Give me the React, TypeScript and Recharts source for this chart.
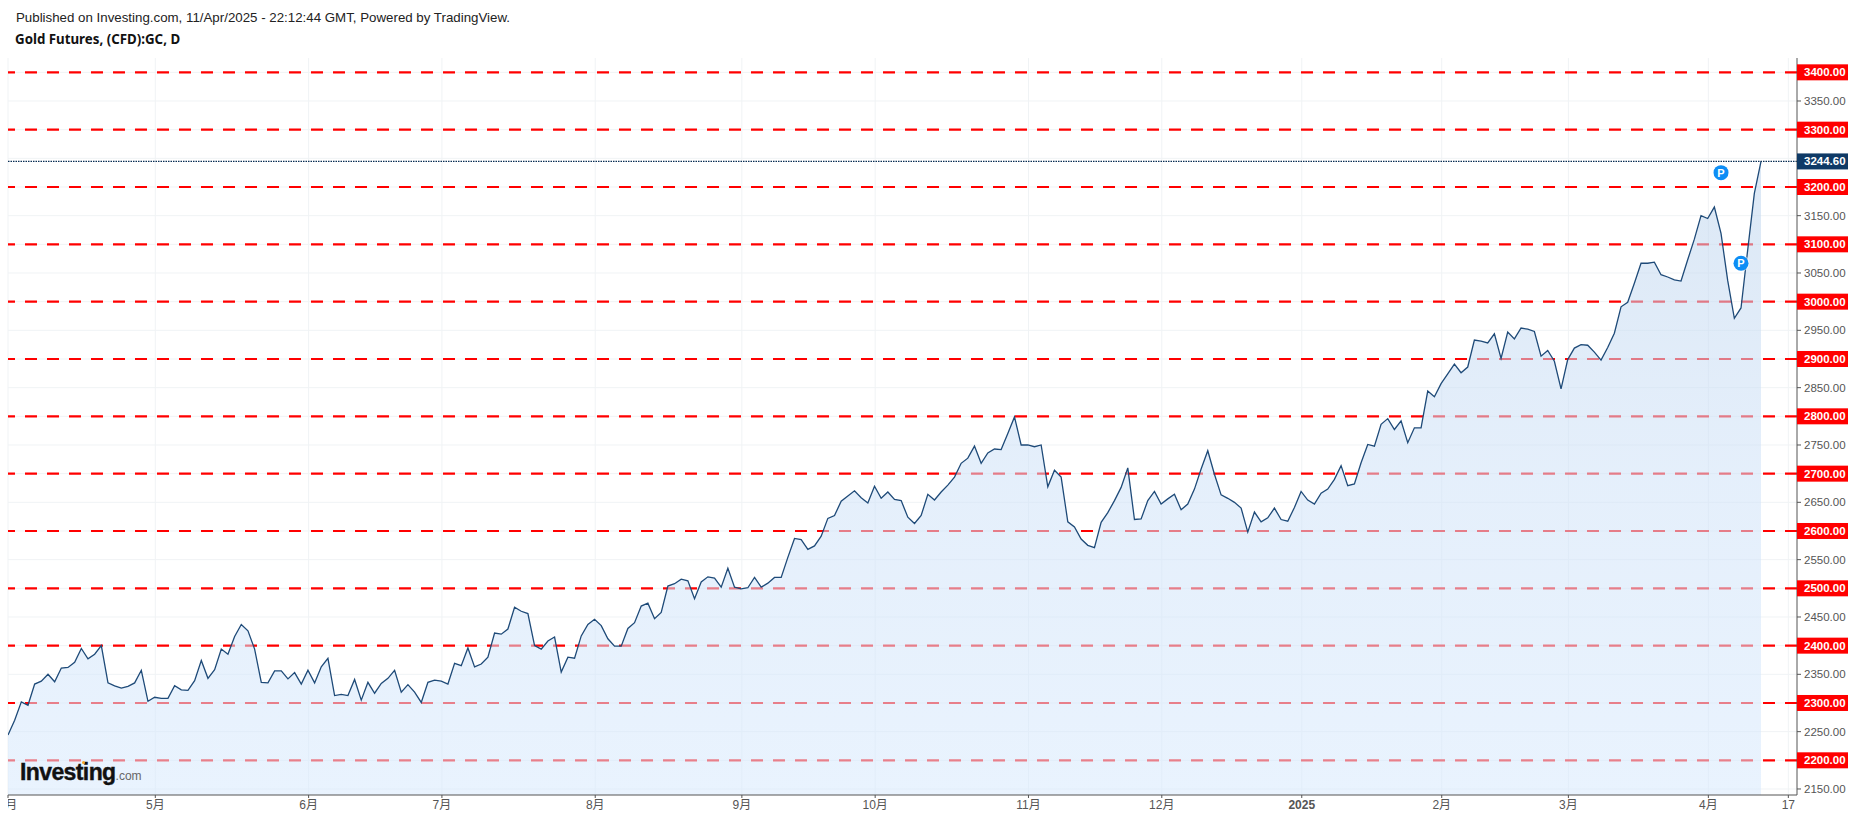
import React from 'react';
import { ComposedChart, Area, XAxis, YAxis, CartesianGrid, ReferenceLine, ReferenceDot } from 'recharts';

// daily closes
const closes = [
    2244, 2270, 2302, 2296, 2333, 2338, 2350, 2337, 2361, 2362, 2371, 2395, 2377, 2385, 2400, 2335,
    2330, 2326, 2329, 2335, 2357, 2303, 2310, 2308, 2308, 2330, 2323, 2322, 2339, 2374, 2343, 2358,
    2394, 2385, 2416, 2437, 2426, 2394, 2336, 2335, 2356, 2356, 2342, 2353, 2333, 2357, 2335, 2363,
    2378, 2313, 2315, 2313, 2341, 2305, 2336, 2317, 2334, 2343, 2357, 2319, 2332, 2319, 2301, 2336,
    2340, 2338, 2333, 2369, 2365, 2396, 2363, 2368, 2380, 2422, 2420, 2429, 2467, 2460, 2456, 2400,
    2394, 2408, 2415, 2354, 2380, 2378, 2417, 2437, 2446, 2435, 2412, 2399, 2399, 2430, 2440, 2469,
    2474, 2447, 2458, 2504, 2508, 2516, 2513, 2482, 2511, 2520, 2518, 2502, 2535, 2502, 2499, 2501,
    2519, 2502, 2509, 2519, 2519, 2554, 2587, 2585, 2568, 2574, 2591, 2622, 2627, 2652, 2661, 2670,
    2658, 2649, 2678, 2657, 2668, 2655, 2653, 2624, 2613, 2627, 2664, 2654, 2668, 2680, 2694, 2718,
    2727, 2748, 2718, 2736, 2743, 2742, 2770, 2799, 2750, 2750, 2747, 2750, 2677, 2706, 2694, 2616,
    2607, 2586, 2575, 2571, 2615, 2632, 2653, 2676, 2710, 2620, 2621, 2653, 2669, 2647, 2656, 2664,
    2637, 2647, 2673, 2708, 2740, 2699, 2663, 2657, 2650, 2640, 2598, 2633, 2616, 2623, 2640, 2620,
    2617, 2641, 2669, 2654, 2647, 2666, 2673, 2690, 2714, 2679, 2682, 2719, 2751, 2748, 2786, 2796,
    2777, 2792, 2754, 2780, 2780, 2844, 2834, 2857, 2874, 2891, 2876, 2886, 2933, 2931, 2928, 2944,
    2901, 2947, 2935, 2954, 2952, 2948, 2905, 2915, 2896, 2848, 2899, 2919, 2925, 2924, 2912, 2898,
    2920, 2945, 2991, 2999, 3032, 3067, 3067, 3069, 3047, 3043, 3038, 3036, 3073, 3109, 3150, 3145,
    3165, 3119, 3037, 2971, 2989, 3090, 3189, 3244.6,
];

const monthTicks = [0, 22.1, 45.1, 65.1, 88.1, 110.1, 130.1, 153.1, 173.1, 194.1, 215.1, 234.1, 255.1, 267.1];
const monthLabels = ['4月', '5月', '6月', '7月', '8月', '9月', '10月', '11月', '12月', '2025', '2月', '3月', '4月', '17'];

const gridPrices = [
    2150, 2200, 2250, 2300, 2350, 2400, 2450, 2500, 2550, 2600, 2650, 2700, 2750,
    2800, 2850, 2900, 2950, 3000, 3050, 3100, 3150, 3200, 3250, 3300, 3350, 3400,
];
const levels = [2200, 2300, 2400, 2500, 2600, 2700, 2800, 2900, 3000, 3100, 3200, 3300, 3400];
const lastPrice = 3244.6;
const pivots = [
    { day: 257, price: 3225 },
    { day: 260, price: 3067 },
];

const chartData = closes.map((close, day) => ({ day, close }));
const sansFont = '"Liberation Sans", Arial, "Noto Sans CJK JP", sans-serif';

function PriceTick({ x, y, payload }: any) {
    const value = payload.value;
    const isLast = value === lastPrice;
    const isLevel = levels.includes(value);
    return (
        <g>
            {isLast && <rect x={x - 7} y={y - 8} width={51} height={16} fill="#0f3a66" />}
            {isLevel && <rect x={x - 7} y={y - 8} width={51} height={16} fill="#ff0000" />}
            <text
                x={x}
                y={y + 4}
                fontSize={11.5}
                fontFamily={sansFont}
                fontWeight={isLast || isLevel ? 'bold' : 'normal'}
                fill={isLast || isLevel ? '#ffffff' : '#555555'}
            >
                {value.toFixed(2)}
            </text>
        </g>
    );
}

function MonthTick({ x, y, payload }: any) {
    const label = monthLabels[monthTicks.indexOf(payload.value)];
    return (
        <text
            x={x}
            y={y + 11}
            clipPath="url(#axisClip)"
            textAnchor="middle"
            fontSize={12}
            fontFamily={sansFont}
            fontWeight={label === '2025' ? 'bold' : 'normal'}
            fill="#555555"
        >
            {label}
        </text>
    );
}

function PivotBadge({ cx, cy }: any) {
    return (
        <g>
            <circle cx={cx} cy={cy} r={8.5} fill="#ffffff" opacity={0.5} />
            <circle cx={cx} cy={cy} r={7.5} fill="#0d8df5" />
            <text x={cx} y={cy + 4} textAnchor="middle" fontSize={11} fontWeight="bold" fontFamily={sansFont} fill="#ffffff">P</text>
        </g>
    );
}

export default function App() {
    return (
        <div style={{ position: 'absolute', left: 0, top: 0, width: 1855, height: 819, background: '#ffffff', overflow: 'hidden' }}>
            <div style={{ position: 'absolute', left: 16, top: 10, fontSize: 13.3, fontFamily: sansFont, color: '#222222', whiteSpace: 'nowrap' }}>
                Published on Investing.com, 11/Apr/2025 - 22:12:44 GMT, Powered by TradingView.
            </div>
            <div style={{ position: 'absolute', left: 15, top: 30, fontSize: 13.3, fontWeight: 'bold', fontFamily: '"Noto Sans", sans-serif', color: '#111111', whiteSpace: 'nowrap' }}>
                Gold Futures, (CFD):GC, D
            </div>
            <ComposedChart
                width={1855}
                height={819}
                data={chartData}
                margin={{ top: 58, right: 0, bottom: 0, left: 8 }}
            >
                <defs>
                    <linearGradient id="closeFill" x1="0" y1="0" x2="0" y2="1">
                        <stop offset="0%" stopColor="#bfd5ed" />
                        <stop offset="50%" stopColor="#cfe2f8" />
                        <stop offset="100%" stopColor="#d7e9fd" />
                    </linearGradient>
                    <clipPath id="axisClip">
                        <rect x={8} y={790} width={1847} height={29} />
                    </clipPath>
                </defs>
                <CartesianGrid stroke="#f0f3f5" horizontalValues={gridPrices} verticalValues={monthTicks} />
                {levels.map((level) => (
                    <ReferenceLine key={level} y={level} stroke="#ff0000" strokeWidth={2.2} strokeDasharray="12 10" zIndex={100} />
                ))}
                <XAxis
                    dataKey="day"
                    type="number"
                    domain={[0, 268.4]}
                    allowDataOverflow
                    ticks={monthTicks}
                    interval={0}
                    height={24}
                    tick={<MonthTick />}
                    tickSize={3}
                    tickMargin={0}
                    stroke="#555555"
                />
                <YAxis
                    orientation="right"
                    type="number"
                    domain={[2139.5, 3425]}
                    allowDataOverflow
                    ticks={[...gridPrices, lastPrice]}
                    interval={0}
                    width={58}
                    tick={<PriceTick />}
                    tickSize={4}
                    tickMargin={3}
                    stroke="#555555"
                />
                <Area
                    type="linear"
                    dataKey="close"
                    stroke="#1e4a78"
                    strokeWidth={1.3}
                    fill="url(#closeFill)"
                    fillOpacity={0.55}
                    dot={false}
                    activeDot={false}
                    isAnimationActive={false}
                    zIndex={200}
                />
                <ReferenceLine y={lastPrice} stroke="#0a2f55" strokeWidth={1.2} strokeDasharray="1.5 1" zIndex={300} />
                {pivots.map((p) => (
                    <ReferenceDot key={p.day} x={p.day} y={p.price} shape={<PivotBadge />} zIndex={400} />
                ))}
            </ComposedChart>
            <div style={{ position: 'absolute', left: 20, top: 759, fontSize: 23, fontWeight: 'bold', fontFamily: '"Liberation Sans", sans-serif', letterSpacing: -0.6, WebkitTextStroke: '0.4px #111111', color: '#111111', whiteSpace: 'nowrap' }}>
                Investing<span style={{ fontSize: 12, fontWeight: 'normal', letterSpacing: 0, WebkitTextStroke: '0px', color: '#666666' }}>.com</span>
            </div>
            <div style={{ position: 'absolute', left: 82, top: 761, width: 3, height: 3, borderRadius: 2, background: '#f5a623' }} />
        </div>
    );
}
